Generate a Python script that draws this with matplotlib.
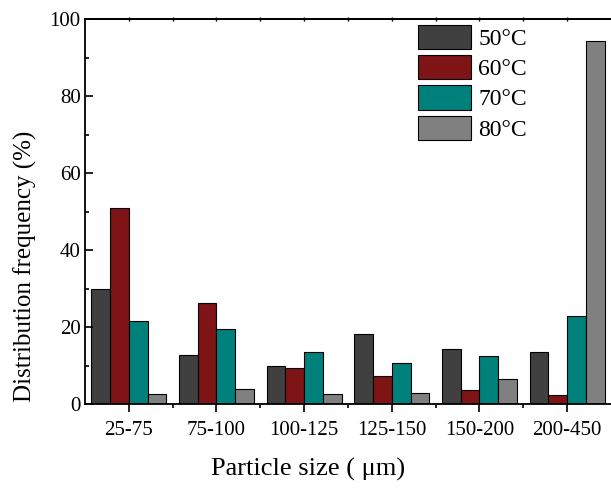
import numpy as np
from matplotlib import pyplot as plt
from matplotlib.ticker import MultipleLocator, FixedLocator


size_labels = ['25-75', '75-100', '100-125', '125-150', '150-200', '200-450']
series_names = ['50°C', '60°C', '70°C', '80°C']
freq_50 = [30.0, 12.7, 10.0, 18.3, 14.2, 13.4]
freq_60 = [51.0, 26.3, 9.3, 7.4, 3.7, 2.4]
freq_70 = [21.5, 19.4, 13.4, 10.6, 12.6, 23.0]
freq_80 = [2.5, 3.8, 2.5, 2.8, 6.5, 94.3]
bar_colors = ['#404040', '#7e1416', '#00807b', '#808080']


def main():
    plt.rcParams['font.family'] = ['Liberation Serif', 'DejaVu Serif']

    fig = plt.figure(figsize=(6.11, 4.88), dpi=100)
    ax = fig.add_axes([0.139, 0.172, 0.861, 0.789])

    x = np.arange(len(size_labels))
    width = 0.214
    all_series = [freq_50, freq_60, freq_70, freq_80]
    for i, (vals, name, color) in enumerate(zip(all_series, series_names, bar_colors)):
        # group centre sits between the 2nd and 3rd bar
        offset = (i - 2) * width
        ax.bar(x + offset, vals, width=width, align='edge', color=color,
               edgecolor='black', linewidth=0.8, label=name)

    ax.set_xlim(-0.5, 5.5)
    ax.set_ylim(0, 100)

    ax.spines['right'].set_visible(False)
    for side in ['left', 'bottom', 'top']:
        ax.spines[side].set_linewidth(1.3)

    ax.set_xticks(x)
    ax.set_xticklabels(size_labels)
    ax.xaxis.set_minor_locator(FixedLocator(x[:-1] + 0.5))
    ax.yaxis.set_major_locator(MultipleLocator(20))
    ax.yaxis.set_minor_locator(MultipleLocator(10))

    ax.tick_params(axis='x', which='major', direction='out', length=6, width=1.2,
                   labelsize=15, pad=6)
    ax.tick_params(axis='x', which='minor', direction='out', length=3, width=1.2)
    ax.tick_params(axis='y', which='major', direction='in', length=6, width=1.2,
                   labelsize=15, pad=3)
    ax.tick_params(axis='y', which='minor', direction='in', length=3, width=1.2)

    # tiny marks on the top frame
    top = ax.secondary_xaxis('top')
    top.set_xticks(np.concatenate([x, x[:-1] + 0.5]))
    top.tick_params(direction='inout', length=3, width=1.0, labeltop=False)
    top.spines['top'].set_linewidth(1.3)

    ax.set_xlabel('Particle size ( μm)', fontsize=19)
    ax.xaxis.set_label_coords(0.424, -0.14)
    ax.set_ylabel('Distribution frequency (%)', fontsize=18)
    ax.yaxis.set_label_coords(-0.092, 0.358)

    ax.legend(loc='upper left', bbox_to_anchor=(0.633, 0.985), frameon=False, fontsize=17,
              handlelength=2.25, handleheight=1.2, handletextpad=0.3,
              labelspacing=0.22, borderpad=0.0, borderaxespad=0.0)

    fig.savefig('out.png', dpi=100)
    plt.close(fig)


if __name__ == '__main__':
    main()
